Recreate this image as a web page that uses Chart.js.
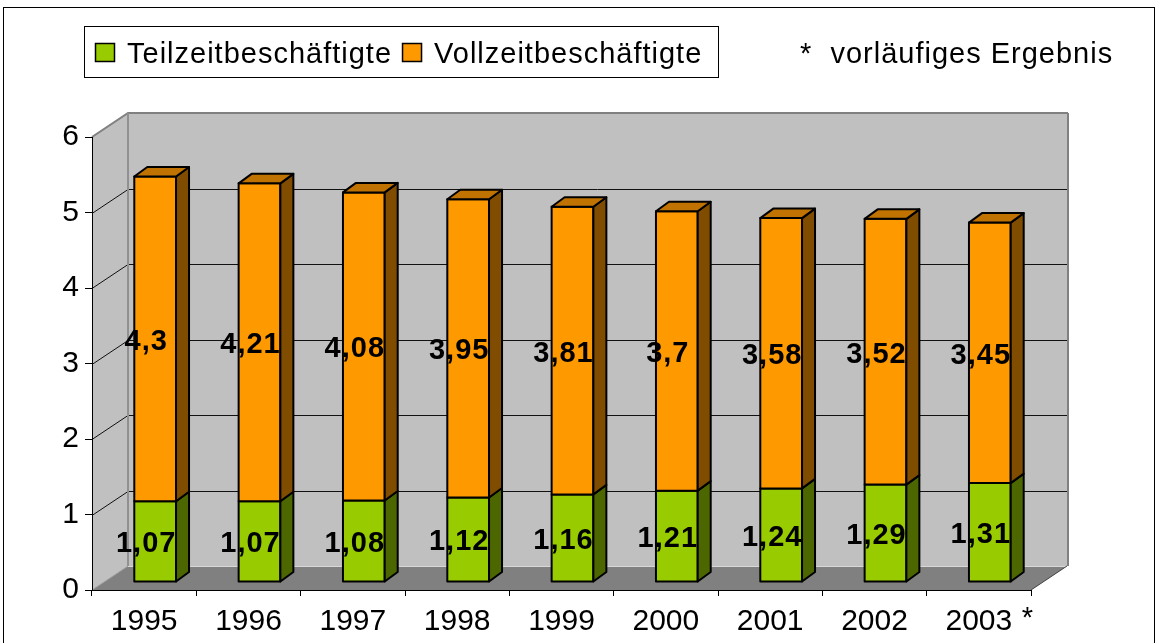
<!DOCTYPE html>
<html>
<head>
<meta charset="utf-8">
<script src="https://cdn.jsdelivr.net/npm/chart.js@4/dist/chart.umd.min.js"></script>
<style>
  html, body { margin: 0; padding: 0; background: #fff; }
  #wrap { width: 1158px; height: 643px; }
</style>
</head>
<body>
<div id="wrap"><canvas id="chart" width="1158" height="643"></canvas></div>
<script>
// Data
const years = ['1995', '1996', '1997', '1998', '1999', '2000', '2001', '2002', '2003'];
const teilzeit = [1.07, 1.07, 1.08, 1.12, 1.16, 1.21, 1.24, 1.29, 1.31];
const vollzeit = [4.3, 4.21, 4.08, 3.95, 3.81, 3.7, 3.58, 3.52, 3.45];
const seriesNames = ['Teilzeitbeschäftigte', 'Vollzeitbeschäftigte'];
const noteText = '*  vorläufiges Ergebnis';
const starredYear = '2003';

const FONT = "'Liberation Sans', Arial, sans-serif";

// 3D look
const WALL = { dx: 36, dy: -24 };
const SHIFT = { dx: 11, dy: -8 };
const DEPTH = { dx: 13, dy: -9.5 };

const faces = [
    { front: '#99CC00', side: '#4C6600', top: '#739900' },
    { front: '#FF9900', side: '#7F4C00', top: '#C07300' }
];

const fmt = v => String(v).replace('.', ',');

function poly(ctx, pts, fill, stroke, lw) {
    ctx.beginPath();
    ctx.moveTo(pts[0][0], pts[0][1]);
    for (let i = 1; i < pts.length; i++) ctx.lineTo(pts[i][0], pts[i][1]);
    ctx.closePath();
    if (fill) { ctx.fillStyle = fill; ctx.fill(); }
    if (stroke) { ctx.strokeStyle = stroke; ctx.lineWidth = lw || 1; ctx.stroke(); }
}

function line(ctx, pts, color, lw) {
    ctx.beginPath();
    ctx.moveTo(pts[0][0], pts[0][1]);
    for (let i = 1; i < pts.length; i++) ctx.lineTo(pts[i][0], pts[i][1]);
    ctx.strokeStyle = color;
    ctx.lineWidth = lw;
    ctx.stroke();
}

const scene3d = {
    id: 'scene3d',
    beforeDraw(chart) {
        const ctx = chart.ctx;
        const { left, right, top, bottom } = chart.chartArea;
        const yS = chart.scales.y;
        ctx.save();
        ctx.fillStyle = '#fff';
        ctx.fillRect(0, 0, chart.width, chart.height);
        // outer frame
        ctx.strokeStyle = '#000';
        ctx.lineWidth = 1;
        ctx.strokeRect(3.5, 7.5, 1151, 700);

        const bx = WALL.dx, by = WALL.dy;
        // left wall, back wall, floor
        poly(ctx, [[left, top], [left + bx, top + by], [left + bx, bottom + by], [left, bottom]], '#C0C0C0');
        poly(ctx, [[left + bx, top + by], [right + bx, top + by], [right + bx, bottom + by], [left + bx, bottom + by]], '#C0C0C0');
        poly(ctx, [[left, bottom], [right, bottom], [right + bx, bottom + by], [left + bx, bottom + by]], '#808080');

        // grid lines on the walls
        for (let v = 1; v < 6; v++) {
            const yf = Math.round(yS.getPixelForValue(v)) + 0.5;
            line(ctx, [[left, yf], [left + bx, yf + by], [right + bx, yf + by]], '#111', 1);
        }
        // wall edges
        line(ctx, [[left, top], [left + bx, top + by], [right + bx + 1, top + by]], '#808080', 2);
        line(ctx, [[right + bx + 1, top + by], [right + bx + 1, bottom + by]], '#808080', 2);
        line(ctx, [[left + bx, top + by], [left + bx, bottom + by]], '#909090', 2);
        line(ctx, [[left, bottom], [left + bx, bottom + by]], '#a0a0a0', 1);
        line(ctx, [[left + bx, bottom + by + 0.5], [right + bx, bottom + by + 0.5]], '#d8d8d8', 1);
        line(ctx, [[right, bottom], [right + bx, bottom + by]], '#404040', 1);
        ctx.restore();
    },
    beforeDatasetsDraw(chart) {
        const ctx = chart.ctx;
        ctx.save();
        ctx.lineJoin = 'round';
        const n = chart.data.labels.length;
        for (let i = 0; i < n; i++) {
            chart.data.datasets.forEach((ds, di) => {
                const el = chart.getDatasetMeta(di).data[i];
                const f = faces[di];
                const x0 = el.x - el.width / 2 + SHIFT.dx;
                const x1 = el.x + el.width / 2 + SHIFT.dx;
                const yT = el.y + SHIFT.dy;
                const yB = el.base + SHIFT.dy;
                const d = DEPTH;
                // front
                poly(ctx, [[x0, yT], [x1, yT], [x1, yB], [x0, yB]], f.front, '#000', 2);
                // side
                poly(ctx, [[x1, yT], [x1 + d.dx, yT + d.dy], [x1 + d.dx, yB + d.dy], [x1, yB]], f.side, '#000', 2);
                // top (only visible on the last stacked segment)
                if (di === chart.data.datasets.length - 1) {
                    poly(ctx, [[x0, yT], [x0 + d.dx, yT + d.dy], [x1 + d.dx, yT + d.dy], [x1, yT]], f.top, '#000', 2);
                }
            });
        }
        ctx.restore();
        return false;
    },
    afterDraw(chart) {
        const ctx = chart.ctx;
        ctx.save();
        ctx.letterSpacing = '1px';
        // value labels
        ctx.font = 'bold 29px ' + FONT;
        ctx.fillStyle = '#000';
        ctx.textAlign = 'center';
        ctx.textBaseline = 'middle';
        chart.data.datasets.forEach((ds, di) => {
            chart.getDatasetMeta(di).data.forEach((el, i) => {
                const ym = (el.y + el.base) / 2 + SHIFT.dy + 3;
                ctx.fillText(fmt(ds.data[i]), el.x + 2, ym);
            });
        });

        // legend box
        ctx.font = '29px ' + FONT;
        ctx.textAlign = 'left';
        ctx.textBaseline = 'alphabetic';
        ctx.fillStyle = '#fff';
        ctx.fillRect(84, 26, 634, 51);
        ctx.strokeStyle = '#000';
        ctx.lineWidth = 1;
        ctx.strokeRect(84.5, 26.5, 634, 51);
        let x = 95;
        chart.data.datasets.forEach((ds, di) => {
            ctx.fillStyle = ds.backgroundColor;
            ctx.fillRect(x, 43, 20, 19);
            ctx.strokeStyle = '#000';
            ctx.lineWidth = 1.5;
            ctx.strokeRect(x + 0.5, 43.5, 19, 18);
            ctx.fillStyle = '#000';
            ctx.fillText(ds.label, x + 32, 63);
            x += 32 + ctx.measureText(ds.label).width + 10;
        });

        // note
        ctx.fillText(noteText, 800, 63);

        // asterisk after the provisional year
        const xS = chart.scales.x;
        const idx = chart.data.labels.indexOf(starredYear);
        ctx.font = '29px ' + FONT;
        ctx.fillText('*', xS.getPixelForValue(idx) + 43, 627);
        ctx.restore();
    }
};

new Chart(document.getElementById('chart'), {
    type: 'bar',
    data: {
        labels: years,
        datasets: [
            { label: seriesNames[0], data: teilzeit, backgroundColor: faces[0].front },
            { label: seriesNames[1], data: vollzeit, backgroundColor: faces[1].front }
        ]
    },
    options: {
        responsive: false,
        animation: false,
        events: [],
        layout: { padding: { left: 0, top: 137, right: 127, bottom: 0 } },
        datasets: { bar: { categoryPercentage: 1, barPercentage: 0.4 } },
        plugins: {
            legend: { display: false },
            tooltip: { enabled: false }
        },
        scales: {
            x: {
                stacked: true,
                afterFit: s => { s.height = 53; },
                grid: { offset: true, drawOnChartArea: false, tickLength: 6, color: '#000' },
                border: { display: true, color: '#000', width: 1 },
                ticks: { color: '#000', font: { family: FONT, size: 30 }, padding: 8, maxRotation: 0 }
            },
            y: {
                stacked: true,
                min: 0,
                max: 6,
                afterFit: s => { s.width = 92; },
                grid: { drawOnChartArea: false, tickLength: 7, color: '#000' },
                border: { display: true, color: '#000', width: 1 },
                ticks: { stepSize: 1, color: '#000', font: { family: FONT, size: 30 }, padding: 6 }
            }
        }
    },
    plugins: [scene3d]
});
</script>
</body>
</html>
